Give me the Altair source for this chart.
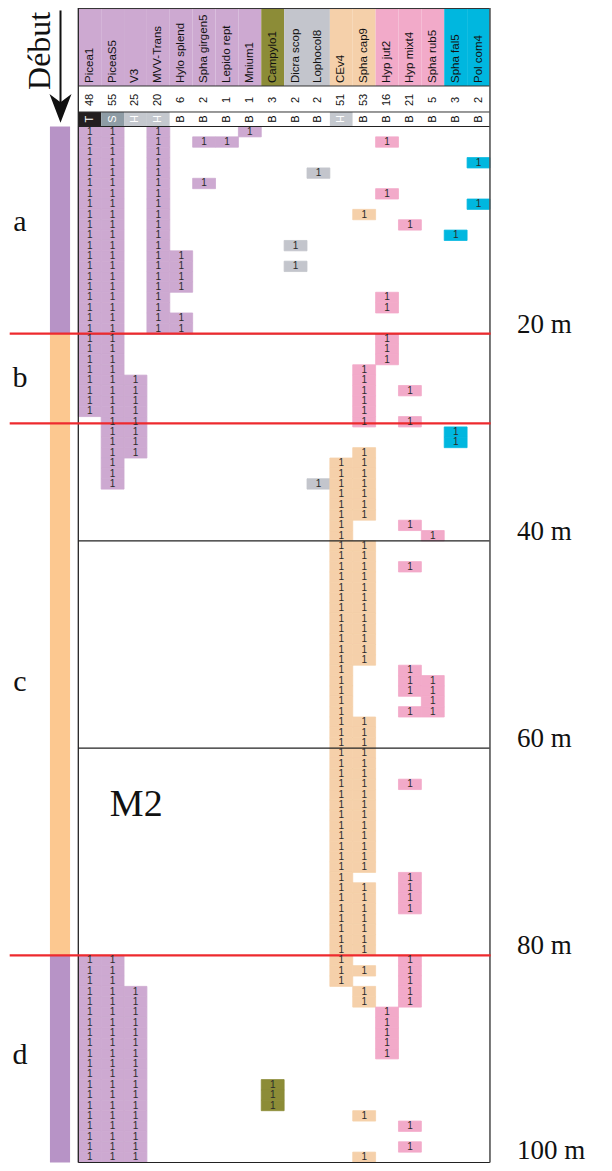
import altair as alt
import pandas as pd

# ---------------- data ----------------
species = ["Picea1", "PiceaS5", "V3", "MVV-Trans", "Hylo splend", "Spha girgen5",
           "Lepido rept", "Mnium1", "Campylo1", "Dicra scop", "Lophocol8", "CEv4",
           "Spha cap9", "Hyp jut2", "Hyp mixt4", "Spha rub5", "Spha fal5", "Pol com4"]
codes = ["T", "S", "H", "H", "B", "B", "B", "B", "B", "B", "B", "H",
         "B", "B", "B", "B", "B", "B"]
counts = [48, 55, 25, 20, 6, 2, 1, 1, 3, 2, 2, 51, 53, 16, 21, 5, 3, 2]
groups = ["purple"] * 8 + ["olive"] + ["gray"] * 2 + ["peach"] * 2 + ["pink"] * 3 + ["cyan"] * 2

# presence runs along the transect (first metre, last metre, inclusive)
runs = {
    "Picea1": [(0, 27), (80, 99)],
    "PiceaS5": [(0, 34), (80, 99)],
    "V3": [(24, 31), (83, 99)],
    "MVV-Trans": [(0, 19)],
    "Hylo splend": [(12, 15), (18, 19)],
    "Spha girgen5": [(1, 1), (5, 5)],
    "Lepido rept": [(1, 1)],
    "Mnium1": [(0, 0)],
    "Campylo1": [(92, 94)],
    "Dicra scop": [(11, 11), (13, 13)],
    "Lophocol8": [(4, 4), (34, 34)],
    "CEv4": [(32, 82)],
    "Spha cap9": [(8, 8), (23, 28), (31, 37), (40, 51), (57, 71), (73, 79), (81, 81),
                  (83, 84), (95, 95), (99, 99)],
    "Hyp jut2": [(1, 1), (6, 6), (16, 17), (20, 22), (85, 89)],
    "Hyp mixt4": [(9, 9), (25, 25), (28, 28), (38, 38), (42, 42), (52, 54), (56, 56),
                  (63, 63), (72, 75), (80, 84), (96, 96), (98, 98)],
    "Spha rub5": [(39, 39), (53, 56)],
    "Spha fal5": [(10, 10), (29, 30)],
    "Pol com4": [(3, 3), (7, 7)],
}
# cells drawn in pink although in the Spha cap9 column
pink_cells = {"Spha cap9": [(23, 28)]}

zone_letters = ["a", "b", "c", "d"]
zone_pos = [9.2, 24.3, 53.6, 89.6]
dist_labels = ["20 m", "40 m", "60 m", "80 m", "100 m"]
dist_pos = [20, 40, 60, 80, 100]
red_lines = [20, 28.65, 80]
box_lines = [0, 20, 40, 60, 100]
zone_bar = [(0, 20, "purple"), (20, 80, "peach"), (80, 100, "purple")]

# ---------------- styles ----------------
group_colors = {"purple": "#cda9d1", "olive": "#8c8c37", "gray": "#c3c5cc",
                "peach": "#f5d0aa", "pink": "#f2aac9", "cyan": "#00b7df"}
bar_colors = {"purple": "#b793c6", "peach": "#fcc890"}
code_bg = {"T": "#231f20", "S": "#8e9ca5", "H": "#c4c8ce", "B": "#ffffff"}
code_fg = {"T": "#ffffff", "S": "#ffffff", "H": "#ffffff", "B": "#000000"}
SANS = "Liberation Sans"
SERIF = "Liberation Serif"

W, H = 596, 1163
X0 = -3.074
X1 = X0 + W / 22.87
Y0 = -11.438
Y1 = Y0 + H / 10.36
HEAD_TOP, HEAD_BOT, COUNT_BOT = Y0, -3.91, -1.40
NC = len(species)

xs = alt.Scale(domain=[X0, X1], nice=False, zero=False)
ys = alt.Scale(domain=[Y0, Y1], nice=False, zero=False, reverse=True)


def X(f):
    return alt.X(f, type="quantitative", scale=xs, axis=None)


def Y(f):
    return alt.Y(f, type="quantitative", scale=ys, axis=None)


# ---------------- tables ----------------
cols = pd.DataFrame({
    "i": list(range(NC)),
    "name": species,
    "code": codes,
    "count": [str(c) for c in counts],
    "gcolor": [group_colors[g] for g in groups],
    "cbg": [code_bg[c] for c in codes],
    "cfg": [code_fg[c] for c in codes],
})
cols["i2"] = cols["i"] + 1
cols["xc"] = cols["i"] + 0.5
cols["ht"] = HEAD_TOP
cols["hb"] = HEAD_BOT
cols["cb"] = COUNT_BOT
cols["z"] = 0.0
cols["name_y"] = -4.2
cols["count_y"] = -2.56
cols["code_y"] = -0.72

cell_rows = []
for i, sp in enumerate(species):
    pink_rng = pink_cells.get(sp, [])
    for a, b in runs[sp]:
        for m in range(a, b + 1):
            col = group_colors[groups[i]]
            for pa, pb in pink_rng:
                if pa <= m <= pb:
                    col = group_colors["pink"]
            cell_rows.append({"x": i, "x2": i + 1, "xc": i + 0.5, "y": m, "y2": m + 1,
                              "yc": m + 0.5, "color": col, "t": "1"})
cells = pd.DataFrame(cell_rows)

bar = pd.DataFrame([{"x": -1.24, "x2": -0.36, "y": a, "y2": b, "color": bar_colors[c]}
                    for a, b, c in zone_bar])

segs = []
for m in red_lines:
    segs.append({"x": -3.0, "x2": 18.03, "y": m, "y2": m, "color": "#ee2a2e", "w": 2.2, "o": 1})
for m in box_lines:
    segs.append({"x": 0, "x2": 18.0, "y": m, "y2": m, "color": "#222222", "w": 1.1, "o": 0})
for m in [HEAD_TOP + 0.05, HEAD_BOT, COUNT_BOT]:
    segs.append({"x": 0, "x2": 18.0, "y": m, "y2": m, "color": "#333333", "w": 1.0, "o": 0})
segs.append({"x": 0, "x2": 0, "y": HEAD_TOP, "y2": 100, "color": "#222222", "w": 1.3, "o": 0})
segs.append({"x": 18.0, "x2": 18.0, "y": HEAD_TOP, "y2": 100, "color": "#555555", "w": 1.6, "o": 0})
# arrow shaft
segs.append({"x": -0.778, "x2": -0.778, "y": -11.2, "y2": -2.2, "color": "#111111", "w": 2.0, "o": 0})
lines = pd.DataFrame(segs)

letters = pd.DataFrame({"x": [-2.55] * 4, "y": zone_pos, "t": zone_letters})
dist_y = [p - 0.1 for p in dist_pos]
dist_y[-1] = dist_pos[-1] - 0.35
dists = pd.DataFrame({"x": [19.18] * 5, "y": dist_y, "t": dist_labels})
misc = pd.DataFrame({"x": [-1.67], "y": [-7.3], "t": ["Début"]})
m2 = pd.DataFrame({"x": [1.38], "y": [66.6], "t": ["M2"]})
arrow = pd.DataFrame({"x": [-0.778], "y": [-1.75]})

# ---------------- layers ----------------
head = alt.Chart(cols).mark_rect().encode(
    x=X("i"), x2="i2", y=Y("ht"), y2="hb", color=alt.Color("gcolor:N", scale=None))
codebg = alt.Chart(cols).mark_rect().encode(
    x=X("i"), x2="i2", y=Y("cb"), y2="z", color=alt.Color("cbg:N", scale=None))
names = alt.Chart(cols).mark_text(angle=270, align="left", baseline="middle",
                                  font=SANS, fontSize=11.5, color="#111111").encode(
    x=X("xc"), y=Y("name_y"), text="name:N")
cnts = alt.Chart(cols).mark_text(angle=270, align="center", baseline="middle",
                                 font=SANS, fontSize=11, color="#111111").encode(
    x=X("xc"), y=Y("count_y"), text="count:N")
codetx = alt.Chart(cols).mark_text(angle=270, align="center", baseline="middle",
                                   font=SANS, fontSize=11).encode(
    x=X("xc"), y=Y("code_y"), text="code:N", color=alt.Color("cfg:N", scale=None))

cellrect = alt.Chart(cells).mark_rect(strokeWidth=0.8).encode(
    x=X("x"), x2="x2", y=Y("y"), y2="y2",
    color=alt.Color("color:N", scale=None),
    stroke=alt.Stroke("color:N", scale=None))
celltxt = alt.Chart(cells).mark_text(font=SANS, fontSize=10, color="#2a2a2a",
                                     baseline="middle", align="center").encode(
    x=X("xc"), y=Y("yc"), text="t:N")

barl = alt.Chart(bar).mark_rect().encode(
    x=X("x"), x2="x2", y=Y("y"), y2="y2", color=alt.Color("color:N", scale=None))

rules = alt.Chart(lines).mark_rule().encode(
    x=X("x"), x2="x2", y=Y("y"), y2="y2",
    color=alt.Color("color:N", scale=None),
    strokeWidth=alt.StrokeWidth("w:Q", scale=None),
    order=alt.Order("o:Q"))

arrowhead = alt.Chart(arrow).mark_point(
    shape="M-1,-1.3 L0,-0.55 L1,-1.3 L0,1.3 Z", size=484, filled=True,
    color="#111111", opacity=1).encode(x=X("x"), y=Y("y"))

lettx = alt.Chart(letters).mark_text(font=SERIF, fontSize=30, color="#111111",
                                     baseline="middle", align="center").encode(
    x=X("x"), y=Y("y"), text="t:N")
disttx = alt.Chart(dists).mark_text(font=SERIF, fontSize=27, color="#111111",
                                    baseline="alphabetic", align="left").encode(
    x=X("x"), y=Y("y"), text="t:N")
debut = alt.Chart(misc).mark_text(font=SERIF, fontSize=32, color="#111111", angle=270,
                                  baseline="middle", align="center").encode(
    x=X("x"), y=Y("y"), text="t:N")
m2tx = alt.Chart(m2).mark_text(font=SERIF, fontSize=38, color="#111111",
                               baseline="alphabetic", align="left").encode(
    x=X("x"), y=Y("y"), text="t:N")

chart = alt.layer(
    head, codebg, cellrect, barl, rules, names, cnts, codetx, celltxt,
    arrowhead, lettx, disttx, debut, m2tx
).properties(
    width=W, height=H, autosize=alt.AutoSizeParams(type="none"), padding=0
).configure_view(strokeWidth=0)

chart.save("out.html", embed_options={"renderer": "svg", "actions": False})
